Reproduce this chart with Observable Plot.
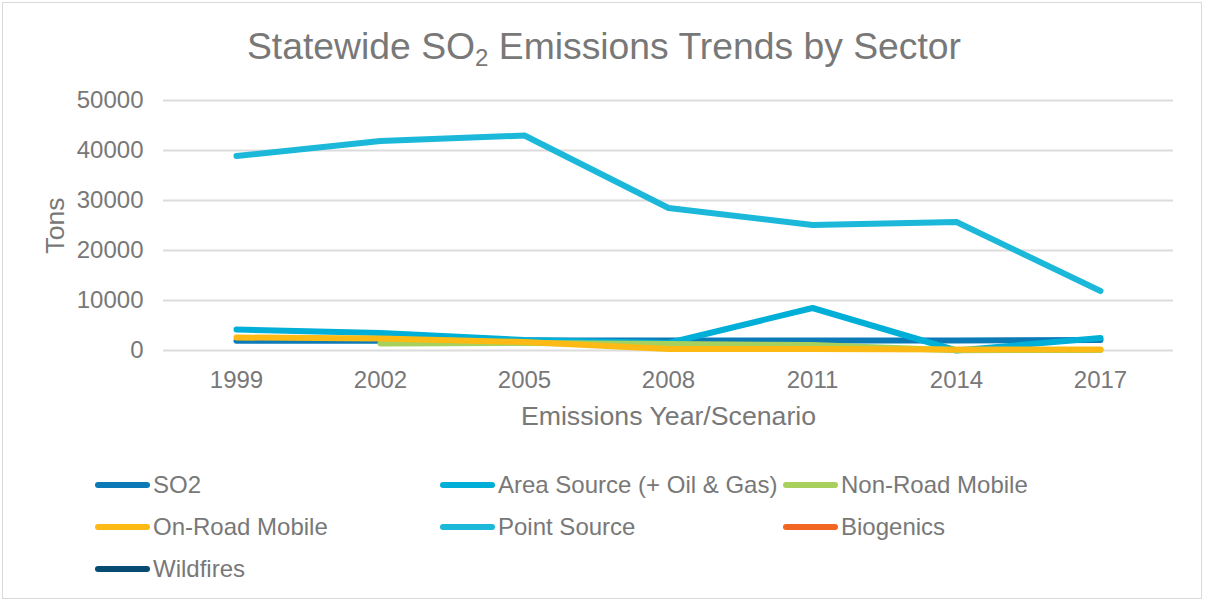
<!DOCTYPE html>
<html>
<head>
<meta charset="utf-8">
<script src="https://cdn.jsdelivr.net/npm/d3@7"></script>
<script src="https://cdn.jsdelivr.net/npm/@observablehq/plot@0.6"></script>
<style>
  html, body { margin: 0; padding: 0; background: #fff; }
  body { width: 1208px; height: 603px; position: relative; overflow: hidden;
         font-family: "Liberation Sans", Arial, sans-serif; color: #787878; }
  .frame { position: absolute; left: 2px; top: 2px; width: 1200px; height: 597px;
           border: 1px solid #d9d9d9; box-sizing: border-box; }
  .title { position: absolute; left: 0; width: 1208px; top: 28px; text-align: center;
           font-size: 37.3px; line-height: 37px; white-space: nowrap; }
  .title sub { font-size: 24px; vertical-align: -7px; line-height: 0; }
  #chart { position: absolute; left: 0; top: 0; }
  .legend { position: absolute; left: 95px; top: 464px; display: grid;
            grid-template-columns: 345px 343px auto; grid-auto-rows: 42px; }
  .item { display: flex; align-items: center; font-size: 24px; white-space: nowrap; }
  .sw { width: 55px; height: 6px; border-radius: 3px; margin-right: 3px; flex: none; }
</style>
</head>
<body>
<div class="frame"></div>
<div class="title">Statewide SO<sub>2</sub> Emissions Trends by Sector</div>
<div id="chart"></div>
<div class="legend" id="legend"></div>
<script>
// Emissions years / scenarios
const years = ["1999", "2002", "2005", "2008", "2011", "2014", "2017"];

// SO2 emissions by sector, tons
const so2          = [1950, 1950, 2000, 2000, 2000, 2000, 2100];
const areaSource   = [4200, 3500, 2100, 1500, 8500, 0, 2500];
const nonRoad      = [null, 1400, 1500, 1300, 1100, 50, 120];
const onRoad       = [2600, 2400, 1700, 300, 300, 200, 200];
const pointSource  = [38900, 41900, 43000, 28500, 25100, 25700, 11900];
const biogenics    = [null, null, null, null, null, null, null];
const wildfires    = [null, null, null, null, null, null, null];

const yTicks = [0, 10000, 20000, 30000, 40000, 50000];

const series = [
  {name: "SO2", values: so2, color: "#0B7AB7"},
  {name: "Area Source (+ Oil & Gas)", values: areaSource, color: "#00AFD7"},
  {name: "Non-Road Mobile", values: nonRoad, color: "#A8D05C"},
  {name: "On-Road Mobile", values: onRoad, color: "#FDBA14"},
  {name: "Point Source", values: pointSource, color: "#1BB8DA"},
  {name: "Biogenics", values: biogenics, color: "#F26522"},
  {name: "Wildfires", values: wildfires, color: "#074B70"}
];

const rows = series.flatMap(s => years.map((yr, i) => ({series: s.name, year: yr, tons: s.values[i]})));

const lineMarks = series.map(s =>
  Plot.lineY(rows.filter(r => r.series === s.name), {
    x: "year", y: "tons", stroke: s.color, strokeWidth: 6,
    strokeLinecap: "round", strokeLinejoin: "round"
  })
);

const plot = Plot.plot({
  width: 1208,
  height: 440,
  marginTop: 100,
  marginRight: 35,
  marginBottom: 90,
  marginLeft: 163,
  style: {fontFamily: "'Liberation Sans', Arial, sans-serif", color: "#787878", background: "transparent"},
  x: {type: "point", domain: years, padding: 0.5, align: 0.5},
  y: {domain: [0, 50000]},
  marks: [
    Plot.ruleY(yTicks, {stroke: "#dcdcdc", strokeWidth: 2}),
    Plot.axisY({ticks: yTicks, tickSize: 0, tickPadding: 20, fontSize: 24, tickFormat: "d", label: null}),
    Plot.axisX({tickSize: 0, tickPadding: 20, fontSize: 24, label: null}),
    Plot.text(["Tons"], {text: d => d, frameAnchor: "left", dx: -108, rotate: -90,
      textAnchor: "middle", lineAnchor: "middle", fontSize: 26.7, fill: "#787878"}),
    Plot.text(["Emissions Year/Scenario"], {text: d => d, frameAnchor: "bottom", dy: 66,
      textAnchor: "middle", lineAnchor: "middle", fontSize: 26.7, fill: "#787878"}),
    ...lineMarks
  ]
});
document.getElementById("chart").appendChild(plot);

// Legend
const legend = document.getElementById("legend");
for (const s of series) {
  const item = document.createElement("div");
  item.className = "item";
  const sw = document.createElement("span");
  sw.className = "sw";
  sw.style.background = s.color;
  const label = document.createElement("span");
  label.textContent = s.name;
  item.appendChild(sw);
  item.appendChild(label);
  legend.appendChild(item);
}
</script>
</body>
</html>
